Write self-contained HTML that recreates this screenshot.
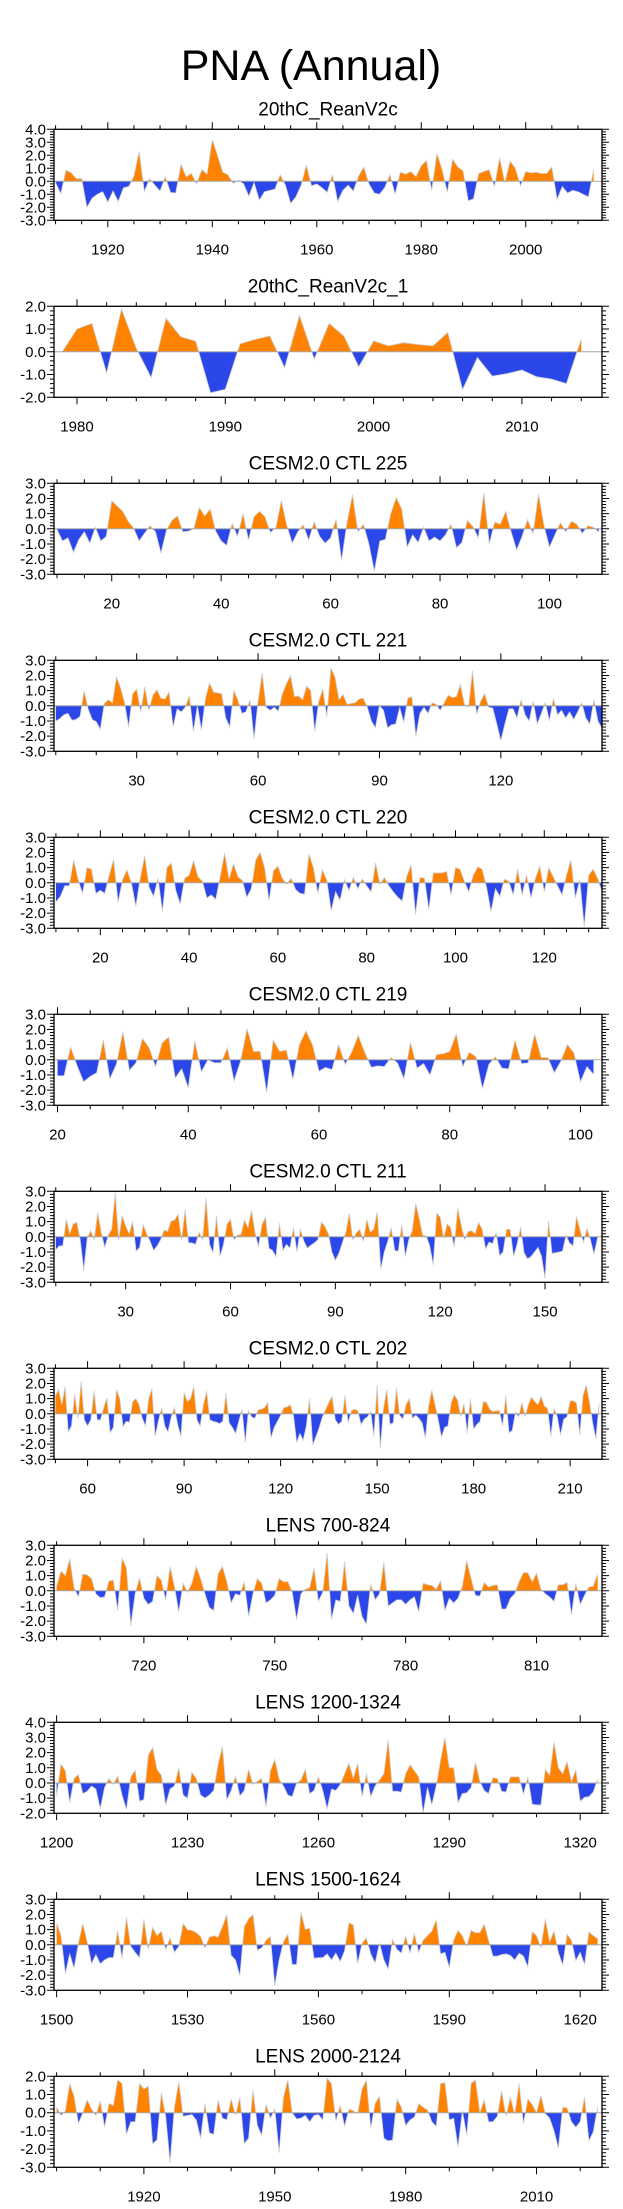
<!DOCTYPE html>
<html><head><meta charset="utf-8"><title>PNA (Annual)</title>
<style>
html,body{margin:0;padding:0;background:#fff;}
svg{display:block;font-family:"Liberation Sans",Arial,sans-serif;}
</style></head>
<body>
<svg id="chart" width="623" height="2209" viewBox="0 0 623 2209" xmlns="http://www.w3.org/2000/svg">
<rect width="623" height="2209" fill="#fff"/>
<text x="311" y="80" font-size="43" text-anchor="middle" fill="#000">PNA (Annual)</text>
</svg>
<script>
const panelTitles = ["20thC_ReanV2c","20thC_ReanV2c_1","CESM2.0 CTL 225","CESM2.0 CTL 221","CESM2.0 CTL 220","CESM2.0 CTL 219","CESM2.0 CTL 211","CESM2.0 CTL 202","LENS 700-824","LENS 1200-1324","LENS 1500-1624","LENS 2000-2124"];
const startYears = [1910,1979,10,10,10,20,10,50,700,1200,1500,1900];
const xMins = [1909.7,1978.45,9.45,9.56,9.57,19.46,9.49,49.56,699.4,1199.4,1499.4,1899.4];
const xMaxs = [2014.6,2015.4,109.6,145,133,103.3,166.3,219.9,825.0,1325.0,1625.0,2025.0];
const yMins = [-3,-2,-3,-3,-3,-3,-3,-3,-3,-2,-3,-3];
const yMaxs = [4,2,3,3,3,3,3,3,3,4,3,2];
const xMajorSteps = [20,10,20,30,20,20,30,30,30,30,30,30];
const xMinorSteps = [5,2,5,10,5,5,10,10,10,10,10,10];

const p1Values = [-0.1,-0.95,0.85,0.65,0.2,0.2,-2.0,-1.3,-1.0,-0.8,-1.6,-0.75,-1.55,-0.5,-0.4,0.4,2.3,-0.8,0.2,-0.3,-0.75,0.35,-0.85,-0.9,1.3,0.35,0.6,-0.2,0.9,0.55,3.2,2.0,0.7,0.5,-0.15,0.1,-0.2,-1.15,-0.1,-1.45,-0.8,-0.7,-0.6,0.5,-0.3,-1.7,-1.2,-0.3,1.25,-0.35,-0.2,-0.5,-0.85,0.5,-1.55,-0.7,-0.3,-0.75,0.4,1.1,-0.2,-0.9,-1.0,-0.5,0.5,-1.0,0.7,0.55,0.75,0.35,1.2,1.6,-0.7,2.15,0.9,-0.85,1.7,1.1,0.8,-1.5,-1.35,0.6,0.75,0.9,-0.4,1.8,-0.1,1.55,1.0,-0.35,0.75,0.65,0.7,0.6,0.6,1.1,-1.4,-0.4,-0.9,-0.7,-0.8,-1.0,-1.2,0.9];
const p2Values = [0,1.0,1.25,-0.93,1.88,0.15,-1.13,1.47,0.66,0.47,-1.8,-1.65,0.35,0.54,0.7,-0.7,1.6,-0.32,1.25,0.69,-0.66,0.48,0.26,0.4,0.32,0.26,0.85,-1.66,-0.25,-1.07,-0.96,-0.8,-1.1,-1.2,-1.4,0.55];
const p3Values = [-0.05,-0.8,-0.6,-1.55,-0.7,-0.2,-0.95,0.1,-0.8,-0.5,1.85,1.5,1.15,0.5,0.05,-0.8,-0.3,0.2,-0.2,-1.6,-0.1,0.55,0.85,-0.2,-0.15,0.0,1.4,0.85,1.3,-0.15,-0.8,-1.1,0.35,-0.5,1.0,-0.75,0.8,1.15,0.8,-0.25,0.1,1.85,0.2,-0.95,-0.2,0.25,-0.75,0.45,-0.5,-0.95,-0.6,0.65,-2.1,0.4,2.25,-0.2,0.3,-1.0,-2.8,-0.8,-0.7,1.0,2.05,1.3,-1.2,-0.4,-0.9,0.1,-0.8,-0.55,-0.8,-0.4,0.3,-1.25,-0.9,0.55,0.15,-0.6,2.4,-1.0,0.45,0.3,1.15,-0.2,-1.4,-0.5,0.6,-0.3,2.3,0.2,-1.2,-0.4,0.4,-0.2,0.5,0.3,-0.3,0.2,0.1,-0.2];
const p4Values = [-1.0,-0.85,-0.6,-0.5,-0.95,-0.9,-0.7,1.0,-0.2,-0.9,-1.05,-1.55,0.15,0.4,0.2,1.9,1.2,0.2,-1.4,0.8,1.1,-0.4,1.25,-0.3,0.7,1.05,0.5,0.45,0.9,-1.4,-0.2,-0.4,-0.1,0.65,-1.7,0.0,-1.6,0.5,1.5,0.9,0.85,0.8,-0.8,-1.4,1.0,0.4,-0.5,-0.4,0.4,-2.2,0.3,2.15,-0.1,-0.3,-0.1,-0.35,0.8,1.45,2.0,0.6,0.65,0.4,1.3,1.0,-1.7,0.3,1.1,-0.7,2.5,1.9,0.4,0.75,0.1,0.15,0.2,0.45,0.5,-0.1,-1.0,-1.45,0.0,-0.3,-1.45,-1.25,-1.2,-0.1,-1.1,0.5,0.6,-2.0,-0.5,-0.1,-0.5,0.2,0.1,-0.3,0.2,0.7,0.55,0.6,1.4,0.1,-0.1,2.3,-0.55,0.3,0.8,-0.1,-0.15,-1.2,-2.3,-1.2,-0.2,-0.2,-0.8,0.4,-0.6,-1.0,0.3,-1.2,-0.5,0.2,-1.0,0.5,-0.6,-0.3,-0.8,-0.4,-0.9,-0.4,0.2,-0.8,-1.2,0.4,-1.0,-1.5];
const p5Values = [-1.25,-0.9,-0.2,-0.2,1.5,0.2,-0.7,1.0,0.9,-0.7,-0.5,-0.7,0.5,1.55,-1.3,0.2,0.85,0.0,-1.55,0.3,1.8,-0.3,-0.9,0.3,-1.9,1.0,1.3,-0.5,-1.4,0.3,0.5,1.45,0.4,0.1,-1.0,-0.8,-1.1,0.4,1.95,0.25,1.25,0.4,0.15,-0.95,-0.4,1.5,2.0,1.0,-1.2,0.8,1.1,0.3,-0.1,0.3,-0.45,-0.7,-0.75,1.9,1.0,-0.7,0.85,0.2,-1.85,-0.6,-1.15,0.2,-0.5,0.35,-0.4,0.25,-0.2,-0.6,1.3,-0.1,0.35,-0.2,-0.6,-0.95,-1.2,0.4,1.2,-2.1,0.35,0.3,-1.8,0.65,0.65,0.65,0.75,-0.8,1.0,0.9,0.1,-0.6,0.5,1.05,0.9,-0.3,-1.9,-0.4,-0.9,0.25,0.1,-0.8,0.9,-0.8,0.5,-1.0,0.3,1.1,-0.6,1.0,0.4,-0.2,-0.8,0.5,1.5,-1.0,0.2,-2.9,0.5,0.9,0.3,-0.6];
const p6Values = [-1.05,-1.05,0.85,-0.4,-1.45,-1.1,-0.85,1.3,-1.25,-0.3,1.85,-0.7,-0.2,1.4,0.8,-0.45,1.1,1.5,-1.2,-0.6,-1.85,1.25,-0.8,0.0,-0.2,-0.2,0.8,-1.4,-0.1,2.05,0.55,0.55,-2.15,1.3,0.55,0.65,-1.3,1.0,1.9,1.0,-0.75,-0.5,-0.65,1.0,-0.3,0.5,1.6,0.5,-0.5,-0.4,-0.45,0.15,-0.2,-1.25,1.15,-0.55,-0.25,-1.0,0.35,0.4,0.55,1.7,-0.45,0.5,0.2,-1.9,-0.3,0.2,-0.55,-0.6,1.3,-0.25,-0.2,1.7,0.15,0.15,-0.85,-0.1,1.0,0.45,-1.45,-0.45,-0.95];
const p7Values = [-0.85,-0.6,-0.6,1.15,0.2,0.85,0.95,-0.2,-2.2,-0.1,0.4,-0.2,1.6,0.3,-0.7,0.1,0.5,2.9,-0.2,1.4,0.7,0.2,1.0,-0.95,-0.7,0.8,0.2,-0.3,-0.9,-0.6,-0.2,0.45,0.35,1.05,1.1,1.5,-0.2,1.8,-0.4,-0.4,-0.5,0.3,-0.2,2.55,-0.5,-1.05,1.4,-1.3,-0.5,0.85,1.15,-0.2,0.1,0.15,1.1,0.6,1.75,0.3,-0.65,0.8,1.3,-0.75,-0.9,-1.3,0.9,-0.9,-0.5,-0.75,0.6,-1.0,0.5,-0.3,-0.75,-0.55,-0.4,-0.2,0.95,0.7,0.2,-1.0,-1.55,-1.1,-0.4,0.3,1.55,-0.2,0.25,0.5,-0.3,1.15,0.3,0.5,1.65,-2.15,-1.0,-0.3,0.6,-0.9,-0.95,0.8,-1.3,-0.2,0.4,2.2,1.2,0.1,0.05,-0.6,-1.85,1.55,1.3,-0.1,0.85,0.6,-0.7,1.9,0.8,-0.2,0.35,0.4,0.2,0.95,0.5,-0.8,-0.35,-0.45,0.3,-1.25,-1.0,0.5,0.5,-1.3,-0.5,0.65,-1.05,-1.45,-1.3,-1.0,-0.7,-1.3,-2.75,1.05,-1.1,-1.05,-1.0,-0.95,0.1,-0.4,-0.6,1.35,0.45,-0.35,0.55,-0.2,-1.15,-0.1];
const p8Values = [1.2,1.6,0.6,1.8,-1.2,-0.8,1.3,-0.3,2.15,-0.4,-0.8,-0.4,1.5,-0.4,-0.4,0.4,1.05,-1.25,-0.9,1.6,1.0,-0.85,-0.5,-0.55,0.8,1.0,0.6,-0.3,-0.8,1.0,1.65,-1.5,-0.5,0.4,-0.8,-1.2,-0.2,0.4,-0.7,-1.5,1.4,0.8,1.0,1.8,-0.4,-0.8,0.6,1.5,-0.4,-0.5,-0.55,-0.65,-0.5,1.35,-0.6,-0.9,-1.3,-0.5,0.3,-1.9,0.2,-0.2,-0.3,0.25,0.3,0.4,0.75,-1.6,-0.9,-0.5,-0.1,0.4,0.45,0.6,-0.1,-1.9,-1.3,-1.75,-0.8,1.0,-2.05,-1.5,-0.9,-0.2,0.3,0.75,1.15,-0.4,-0.7,-0.5,1.2,-0.6,0.2,0.3,0.2,-0.7,-0.35,-0.2,0.15,-1.5,1.9,-2.3,0.4,1.6,-0.7,-0.6,1.7,-0.1,-0.35,0.6,1.0,-0.3,-0.1,-0.3,-0.6,-1.6,0.5,1.55,0.6,-0.4,-1.55,-0.9,-0.8,0.7,1.25,0.9,-0.2,0.7,-1.3,1.0,-1.0,-0.7,-0.5,0.8,0.75,0.3,0.15,0.2,0.2,-0.8,1.2,-1.25,-1.1,0.1,-0.2,0.75,-0.2,0.6,1.1,0.8,0.6,1.15,0.5,0.35,-1.5,0.35,-0.2,-1.4,-0.35,-0.2,0.85,0.85,0.7,-1.4,1.2,1.9,0.8,-0.6,-1.65,0.65];
const p9Values = [0.3,1.3,1.0,2.1,0.2,-0.4,1.1,1.05,0.8,-0.2,-0.45,-0.4,0.65,0.7,-1.3,2.15,1.5,-2.3,-0.2,0.85,-0.5,-0.9,-0.7,1.0,0.7,-0.6,1.6,0.3,-1.4,0.5,-0.1,0.5,1.6,0.8,-0.2,-1.1,-1.3,1.1,1.6,0.6,-0.8,-0.2,-0.3,0.6,-1.7,-0.2,0.8,0.5,-0.8,-0.6,-0.3,0.8,0.6,0.6,-0.1,-1.9,-0.2,0.1,0.2,1.5,-0.7,-0.1,2.5,-1.9,-0.6,-0.7,1.9,-1.0,-1.5,-0.3,-1.7,-2.2,0.45,-0.6,-0.2,1.9,-1.0,-0.8,-0.6,-0.6,-0.9,-0.6,-0.4,-1.4,0.5,0.4,0.35,0.1,0.65,-1.3,-0.5,-0.8,-0.5,0.3,2.0,0.8,-0.3,-0.35,0.55,0.25,0.35,0.4,-1.2,-1.2,-0.5,-0.2,0.6,1.2,1.2,0.6,1.15,0.1,-0.2,-0.4,-0.7,0.4,0.4,0.55,-1.6,0.5,-0.9,-0.3,0.25,0.3,1.1];
const p10Values = [-0.85,1.25,0.8,-1.3,0.3,0.55,-0.7,-0.55,-0.2,-0.4,-1.7,-0.3,0.3,-0.1,0.45,-0.8,-1.75,0.4,0.85,-1.2,-1.1,1.8,2.35,0.9,0.5,-1.45,-0.4,-0.2,1.0,-0.8,-1.0,0.7,0.3,-0.8,-1.0,-0.8,-0.5,1.2,2.4,-1.1,-0.5,0.45,-0.85,-0.5,0.9,-0.1,0.1,0.3,-1.6,0.8,1.55,0.25,-0.2,-0.8,-0.9,0.0,0.2,0.9,-0.7,-0.5,0.4,-0.5,-1.7,-0.4,-0.5,-0.1,0.6,1.3,0.3,1.3,-0.9,0.6,-0.9,-0.2,0.2,0.6,2.85,-0.55,-0.55,-0.6,0.6,1.2,0.8,0.4,-2.0,-0.3,-1.45,-0.2,1.5,3.0,1.0,1.0,-1.3,-0.7,-0.65,-0.3,1.35,0.1,-0.5,-0.7,0.35,0.3,-0.55,-0.6,0.4,0.4,0.4,-0.75,0.4,-1.4,-1.45,-1.45,0.9,0.5,2.7,1.0,0.6,1.4,0.1,0.85,-1.2,-0.95,-0.9,-0.6,0.25];
const p11Values = [1.45,0.6,-1.9,-0.6,-1.55,0.1,1.4,0.2,-1.25,-0.65,-1.25,-1.0,-0.85,-0.85,0.95,-0.9,1.8,-0.1,-0.5,-0.85,1.7,-0.3,1.15,0.6,0.9,-0.3,0.45,-0.5,-0.1,1.4,1.0,0.95,0.8,0.55,-0.2,0.5,0.6,0.5,1.2,2.0,-0.7,-1.0,-2.05,1.2,1.7,2.0,-0.35,-0.2,0.3,0.55,-2.7,-1.0,0.2,0.7,-1.3,-1.3,2.15,1.0,1.1,-0.9,-0.85,-0.85,-0.6,-1.0,-0.55,-1.1,-0.4,1.45,1.3,-1.25,0.1,0.45,-0.6,-1.2,0.1,-1.0,-1.6,0.35,-0.3,-0.55,0.6,-0.55,0.75,-0.5,0.3,0.6,0.9,1.65,-0.6,-0.5,-1.5,0.3,0.95,0.6,-0.1,0.95,0.8,0.8,1.35,0.3,-0.75,-0.75,-0.65,-0.6,-0.7,-1.0,-0.55,-0.75,-1.45,0.85,0.6,-0.2,1.7,0.2,0.9,-0.5,-1.35,0.7,0.3,-1.05,-0.5,-1.3,0.85,0.6,0.4];
const p12Values = [0.3,-0.15,0.1,1.6,0.9,-0.6,0.0,0.7,0.2,-0.15,0.65,-0.8,0.5,0.4,1.8,1.6,-1.2,-0.5,-0.5,1.6,1.3,1.45,-1.7,-1.5,1.1,-0.2,-2.75,0.3,1.7,-0.2,-0.15,-0.1,-0.4,-1.4,0.5,-1.1,-1.2,0.7,-0.3,-0.4,0.75,-0.15,0.85,-1.7,-1.4,1.25,-0.7,-1.25,0.45,-0.3,0.2,-2.2,0.85,1.8,0.0,-0.35,-0.3,-0.15,-0.5,-0.15,-0.1,-0.4,1.9,1.6,-0.45,0.4,-0.75,0.2,0.1,-0.05,1.3,1.8,-0.85,0.5,0.9,-1.4,-1.55,-1.5,0.75,0.3,-0.7,-0.4,-0.25,0.5,0.3,0.15,-0.5,-0.75,1.6,1.65,-0.4,-0.3,-1.9,0.1,-1.25,1.6,1.8,0.0,0.7,-0.5,-0.5,-0.2,1.2,-0.2,0.85,-0.1,1.6,-0.6,0.75,0.45,0.0,0.95,-0.05,-0.3,-1.0,-1.95,0.3,0.25,-0.5,-0.8,-0.5,0.85,-1.55,-1.05,0.3];

const seriesValues = [p1Values,p2Values,p3Values,p4Values,p5Values,p6Values,p7Values,p8Values,p9Values,p10Values,p11Values,p12Values];

const NS = "http://www.w3.org/2000/svg";
const svg = document.getElementById("chart");
const L = 54, R = 602, H = 91, TOP0 = 129.3, STEP = 177;

function mk(tag, attrs, parent) {
  const e = document.createElementNS(NS, tag);
  for (const k in attrs) e.setAttribute(k, attrs[k]);
  parent.appendChild(e);
  return e;
}

seriesValues.forEach(function (vals, i) {
  const top = TOP0 + STEP * i, bot = top + H;
  const xmin = xMins[i], xmax = xMaxs[i], ymin = yMins[i], ymax = yMaxs[i];
  const sx = function (x) { return L + (x - xmin) / (xmax - xmin) * (R - L); };
  const sy = function (v) { return top + (ymax - v) / (ymax - ymin) * H; };
  const g = mk("g", {}, svg);
  
  

  const t = mk("text", {x: (L + R) / 2, y: top - 14, "font-size": 19, "text-anchor": "middle", fill: "#000"}, g);
  t.textContent = panelTitles[i];
  
  

  // points with zero crossings
  const pts = [];
  for (let k = 0; k < vals.length; k++) {
    const x = startYears[i] + k, v = vals[k];
    if (k > 0) {
      const pv = vals[k - 1];
      if ((pv > 0 && v < 0) || (pv < 0 && v > 0)) {
        const xc = x - 1 + pv / (pv - v);
        pts.push([xc, 0]);
      }
    }
    pts.push([x, v]);
  }
  const x0 = pts[0][0], xn = pts[pts.length - 1][0];
  let pos = sx(x0).toFixed(2) + "," + sy(0).toFixed(2);
  let neg = pos;
  let line = "";
  pts.forEach(function (p) {
    pos += " " + sx(p[0]).toFixed(2) + "," + sy(Math.max(p[1], 0)).toFixed(2);
    neg += " " + sx(p[0]).toFixed(2) + "," + sy(Math.min(p[1], 0)).toFixed(2);
    line += " " + sx(p[0]).toFixed(2) + "," + sy(p[1]).toFixed(2);
  });
  pos += " " + sx(xn).toFixed(2) + "," + sy(0).toFixed(2);
  neg += " " + sx(xn).toFixed(2) + "," + sy(0).toFixed(2);

  const pp = mk("polygon", {points: pos, fill: "#ff8200"}, g);
  
  
  const np = mk("polygon", {points: neg, fill: "#2b47ea"}, g);
  
  
  const ln = mk("polyline", {points: line, fill: "none", stroke: "#cfcfcf", "stroke-width": 0.8}, g);
  
  
  const zl = mk("line", {x1: L, x2: R, y1: sy(0), y2: sy(0), stroke: "#a8a8a8", "stroke-width": 1}, g);
  
  

  const box = mk("rect", {x: L, y: top, width: R - L, height: H, fill: "none", stroke: "#000", "stroke-width": 1.3}, g);
  
  

  // y ticks
  let yt = "";
  for (let v = ymin; v <= ymax + 1e-6; v += 0.2) {
    const isMaj = Math.abs(v - Math.round(v)) < 1e-6;
    const len = isMaj ? 7 : 4, y = sy(v).toFixed(2);
    yt += "M" + L + " " + y + "h" + (-len) + "M" + R + " " + y + "h" + len;
    if (isMaj) {
      const lab = mk("text", {x: L - 8, y: sy(v) + 5, "font-size": 15, "text-anchor": "end", fill: "#000"}, g);
      lab.textContent = Math.round(v).toFixed(1);
      
      
    }
  }
  // x ticks
  const firstMinor = Math.ceil(xmin / xMinorSteps[i]) * xMinorSteps[i];
  for (let x = firstMinor; x <= xmax; x += xMinorSteps[i]) {
    const isMaj = x % xMajorSteps[i] === 0;
    const len = isMaj ? 7 : 4, px = sx(x).toFixed(2);
    yt += "M" + px + " " + bot + "v" + len + "M" + px + " " + top + "v" + (-len);
    if (isMaj) {
      const lab = mk("text", {x: sx(x), y: bot + 34, "font-size": 15, "text-anchor": "middle", fill: "#000"}, g);
      lab.textContent = String(x);
      
      
    }
  }
  const ticks = mk("path", {d: yt, stroke: "#000", "stroke-width": 1, fill: "none"}, g);
  
  
});
</script>
</body></html>
